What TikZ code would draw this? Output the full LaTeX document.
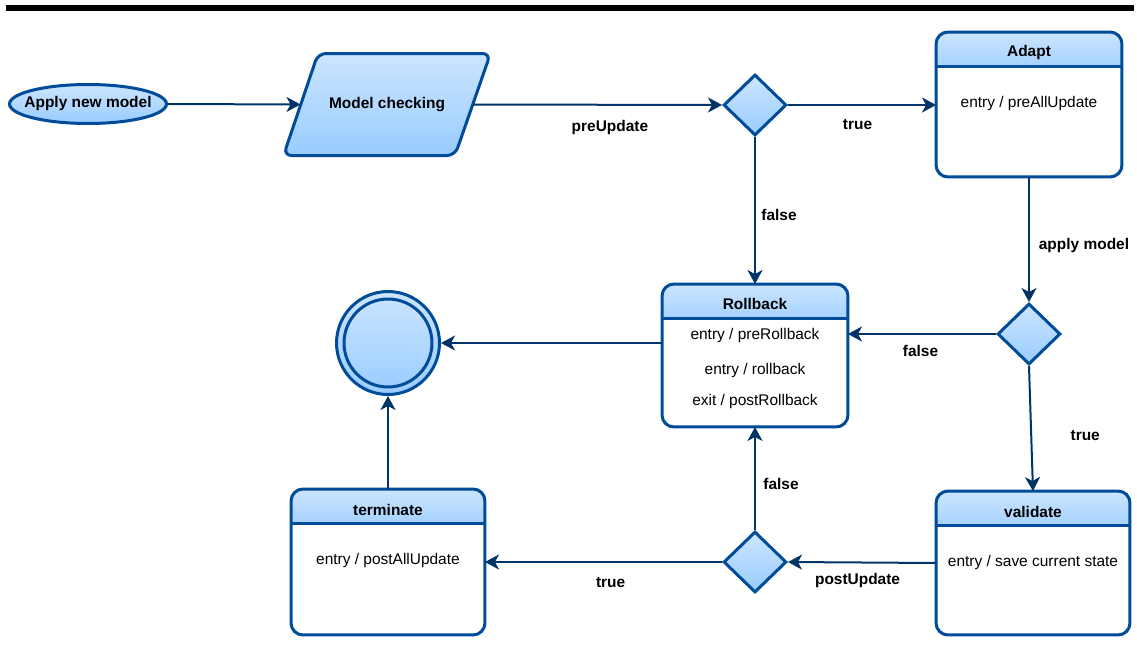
\documentclass[tikz,border=0pt]{standalone}
\usepackage{fontspec}
\setmainfont{Liberation Sans}
\usepackage{tikz}
\usetikzlibrary{arrows.meta}
\usetikzlibrary{shapes.geometric}

\definecolor{shapeline}{RGB}{0,76,153}
\definecolor{arrowline}{RGB}{0,51,102}
\definecolor{filltop}{RGB}{204,229,255}
\definecolor{fillbot}{RGB}{153,204,255}

\tikzset{
  flow/.style={draw=arrowline, line width=0.04cm, -{Stealth[length=0.28cm, width=0.3cm, inset=0.08cm]}},
  lbl/.style={font=\fontsize{8.8}{10.5}\selectfont\bfseries, text=black},
  blue fill/.style={draw=shapeline, line width=0.06cm, top color=filltop, bottom color=fillbot},
  decision/.style={diamond, blue fill, minimum width=1.26cm, minimum height=1.22cm, inner sep=0pt},
  statebox/.style={rectangle, fill=white, inner sep=0pt, outer sep=0pt, rounded corners=0.24cm},
  boxline/.style={draw=shapeline, line width=0.06cm},
}

\begin{document}
\begin{tikzpicture}[x=0.02cm, y=-0.02cm, font=\fontsize{8.8}{10.5}\selectfont]
    \useasboundingbox (0,0) rectangle (1137,666);

    % the bar at the top
    \fill[black] (6,5) rectangle (1134,11);

    % start and model check
    \node[ellipse, blue fill, minimum width=3.14cm, minimum height=0.78cm, inner sep=0pt] (apply) at (88,104) {};
    \node[lbl] at (apply) {Apply new model};
    \draw[blue fill, rounded corners=0.16cm] (318,53.5) -- (490.5,53.5) -- (455,155.5) -- (283.5,155.5) -- cycle;
    \node[lbl] (check) at (387,104.5) {Model checking};
    \coordinate (check-w) at (300.5,104.5);
    \coordinate (check-e) at (473,104.5);

    % the three choices
    \node[decision] (preupd) at (755,105) {};
    \node[decision] (applied) at (1029,334) {};
    \node[decision] (postupd) at (755,562) {};

    % the final state
    \node[circle, blue fill, minimum size=2.06cm, inner sep=0pt] (final) at (388,343) {};
    \draw[boxline] (final.center) circle (0.88cm);

    % the state boxes
    \node[statebox, minimum width=3.72cm, minimum height=2.9cm] (adapt) at (1029,104.5) {};
    \node[statebox, minimum width=3.72cm, minimum height=2.86cm] (rollback) at (755,355.5) {};
    \node[statebox, minimum width=3.88cm, minimum height=2.92cm] (terminate) at (388,562) {};
    \node[statebox, minimum width=3.88cm, minimum height=2.88cm] (validate) at (1033,563) {};
    \foreach \b in {adapt,rollback,terminate,validate} {
        \begin{scope}
            \clip (\b.north west) rectangle ([yshift=-0.68cm]\b.north east);
            \path[top color=filltop, bottom color=fillbot, rounded corners=0.24cm] (\b.north west) rectangle ([yshift=-0.9cm]\b.north east);
        \end{scope}
        \draw[boxline] ([yshift=-0.68cm]\b.north west) -- ([yshift=-0.68cm]\b.north east);
        \draw[boxline, rounded corners=0.24cm] (\b.north west) rectangle (\b.south east);
    }

    % titles and actions
    \node[lbl] at ([yshift=-0.41cm]adapt.north) {Adapt};
    \node (adapt-entry) at ([yshift=-1.44cm]adapt.north) {entry / preAllUpdate};
    \node[lbl] at ([yshift=-0.39cm]rollback.north) {Rollback};
    \node (rb-entry) at ([yshift=-1.03cm]rollback.north) {entry / preRollback};
    \node (rb-do) at ([yshift=-1.74cm]rollback.north) {entry / rollback};
    \node (rb-exit) at ([yshift=-2.35cm]rollback.north) {exit / postRollback};
    \node[lbl] at ([yshift=-0.41cm]terminate.north) {terminate};
    \node (term-entry) at ([yshift=-1.42cm]terminate.north) {entry / postAllUpdate};
    \node[lbl] at ([yshift=-0.41cm]validate.north) {validate};
    \node (val-entry) at ([yshift=-1.42cm]validate.north) {entry / save current state};

    % transitions
    \draw[flow] (apply.east) -- (check-w);
    \draw[flow] (check-e) -- (preupd.west) node[lbl, pos=0.55, yshift=-0.46cm] {preUpdate};
    \draw[flow] (preupd.east) -- (adapt.west |- preupd) node[lbl, pos=0.47, yshift=-0.4cm] {true};
    \draw[flow] (preupd.south) -- (rollback.north) node[lbl, pos=0.53, xshift=0.48cm] {false};
    \draw[flow] (adapt.south) -- (applied.north) node[lbl, pos=0.55, xshift=1.1cm] {apply model};
    \draw[flow] (applied.west) -- (applied.west -| rollback.east) node[lbl, pos=0.51, yshift=-0.34cm] {false};
    \draw[flow] (applied.south) -- (validate.north) node[lbl, pos=0.56, xshift=1.08cm] {true};
    \draw[flow] (final -| rollback.west) -- (final.east);
    \draw[flow] (terminate.north) -- (final.south);
    \draw[flow] (postupd.west) -- (terminate.east) node[lbl, pos=0.47, yshift=-0.42cm] {true};
    \draw[flow] (postupd.north) -- (rollback.south) node[lbl, pos=0.45, xshift=0.52cm] {false};
    \draw[flow] (validate.west) -- (postupd.east) node[lbl, pos=0.53, yshift=-0.36cm] {postUpdate};
\end{tikzpicture}
\end{document}
